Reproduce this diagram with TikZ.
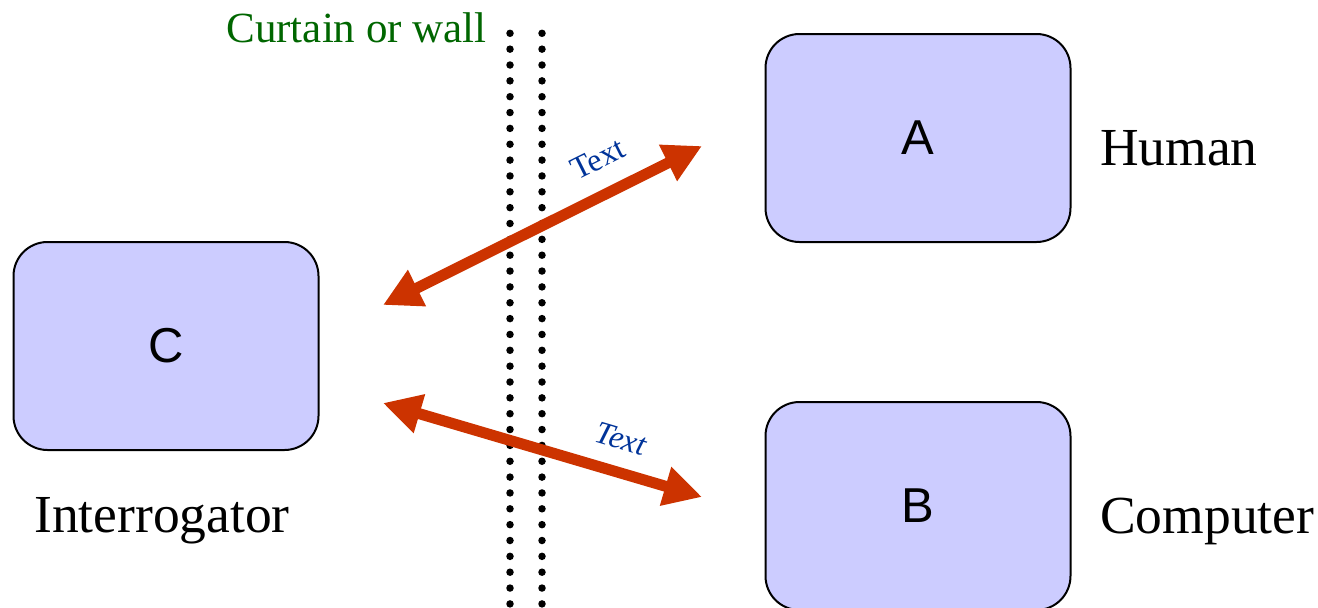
\documentclass[tikz,border=0pt]{standalone}
\usepackage{fontspec}
\setmainfont{Liberation Serif}
\newfontfamily\boxfont{Liberation Sans}
\usetikzlibrary{arrows.meta}

\definecolor{boxfill}{RGB}{204,204,255}
\definecolor{arrowred}{RGB}{204,51,0}
\definecolor{labelblue}{RGB}{0,51,153}
\definecolor{wallgreen}{RGB}{0,102,0}

\tikzset{
  party/.style={draw=black, line width=2pt, fill=boxfill, rounded corners=34pt,
    minimum width=305pt, minimum height=208pt, inner sep=0pt,
    font=\boxfont\fontsize{49}{49}\selectfont},
  role/.style={inner sep=0pt, font=\fontsize{53.5}{53.5}\selectfont},
  channel/.style={draw=arrowred, line width=11pt,
    {Triangle[length=38pt,width=38pt]}-{Triangle[length=38pt,width=38pt]}},
  msg/.style={inner sep=0pt, text=labelblue, font=\fontsize{32}{32}\selectfont},
  wall/.style={line width=7.5pt, line cap=round, dash pattern=on 0pt off 15.85pt}
}

\begin{document}
\begin{tikzpicture}[x=1pt, y=-1pt]
\useasboundingbox (0,0) rectangle (1318,608);

% the three parties
\node[party] (C) at (166,346) {C};
\node[party] (A) at (918,138) {A};
\node[party] (B) at (918,506) {B};

% their roles
\node[role, anchor=base west] (human) at (1100,165) {Human};
\node[role, anchor=base west] (computer) at (1100,533) {Computer};
\node[role, anchor=base west] (interrogator) at (34,532) {Interrogator};

% the curtain between interrogator and the other two
\coordinate (w1top) at (510,33.3);
\coordinate (w1bot) at (510,612);
\coordinate (w2top) at (542,33.3);
\coordinate (w2bot) at (542,612);
\draw[wall] (w1top) -- (w1bot);
\draw[wall] (w2top) -- (w2bot);
\node[inner sep=0pt, anchor=base east, text=wallgreen,
      font=\fontsize{43}{43}\selectfont] (wall) at (487,42) {Curtain or wall};

% text channels through the curtain
\coordinate (cA) at (383,305);
\coordinate (aC) at (702,146);
\coordinate (cB) at (383,403);
\coordinate (bC) at (702,497);
\draw[channel] (cA) -- (aC);
\draw[channel] (cB) -- (bC);
\node[msg, rotate=26.5] (t1) at (598,159) {Text};
\node[msg, rotate=-16.5] (t2) at (621,439) {\itshape Text};
\end{tikzpicture}
\end{document}
